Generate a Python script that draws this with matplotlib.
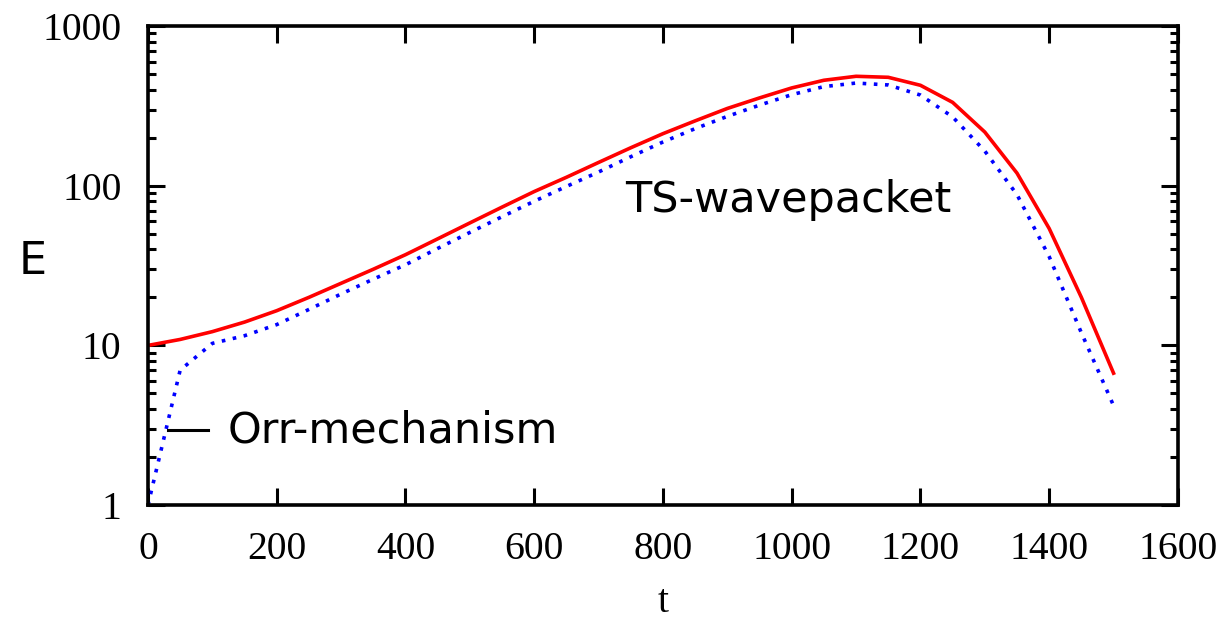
import matplotlib
matplotlib.use("Agg")
import matplotlib.pyplot as plt
from matplotlib.ticker import LogLocator, FixedLocator, NullFormatter

# data
t = [0, 50, 100, 150, 200, 250, 300, 350, 400, 450, 500, 550, 600, 650, 700, 750,
     800, 850, 900, 950, 1000, 1050, 1100, 1150, 1200, 1250, 1300, 1350, 1400, 1450, 1500]
E_red = [10.0, 10.9, 12.2, 14.0, 16.5, 20.0, 24.5, 30.0, 37.0, 46.5, 58.5, 73.5, 92.0,
         113, 140, 173, 212, 255, 305, 355, 410, 458, 485, 478, 426, 333, 217, 120, 54, 20, 6.7]
E_blue = [1.0, 7.0, 10.3, 11.5, 13.5, 16.8, 21.0, 26.0, 32.0, 40.5, 51.0, 64.0, 80.0,
          99, 122, 152, 188, 228, 272, 320, 372, 418, 440, 428, 370, 270, 165, 88, 36, 12, 4.2]

fig, ax = plt.subplots(figsize=(12.27, 6.22), dpi=100)
fig.subplots_adjust(left=0.1206, right=0.96, top=0.958, bottom=0.188)

ax.plot(t, E_red, color="red", linewidth=2.6)
ax.plot(t, E_blue, color="blue", linewidth=2.6, linestyle=(0, (1, 2.1)))

ax.set_yscale("log")
ax.set_xlim(0, 1600)
ax.set_ylim(1, 1000)

serif = "Liberation Serif"
ax.xaxis.set_major_locator(FixedLocator([0, 200, 400, 600, 800, 1000, 1200, 1400, 1600]))
ax.yaxis.set_major_locator(FixedLocator([1, 10, 100, 1000]))
ax.yaxis.set_minor_locator(LogLocator(base=10, subs=range(2, 10)))
ax.yaxis.set_minor_formatter(NullFormatter())
ax.set_yticklabels(["1", "10", "100", "1000"])
ax.tick_params(which="both", direction="in", top=True, right=True, width=2.2)
ax.tick_params(which="major", length=12, labelsize=28.5, pad=19)
ax.tick_params(which="minor", length=6)
for lab in ax.get_xticklabels() + ax.get_yticklabels():
    lab.set_fontfamily(serif)
for sp in ax.spines.values():
    sp.set_linewidth(2.6)

ax.set_xlabel("t", fontsize=28.5, fontfamily=serif, labelpad=11)
fig.text(33 / 1227, 1 - 262 / 622, "E", fontsize=32, fontfamily="DejaVu Sans",
         ha="center", va="center")

ax.text(741, 81, "TS-wavepacket", fontsize=31, fontfamily="DejaVu Sans", va="center")
ax.plot([31, 93], [2.95, 2.95], color="black", linewidth=2.2)
ax.text(124, 2.95, "Orr-mechanism", fontsize=31, fontfamily="DejaVu Sans", va="center")

fig.savefig("out.png", dpi=100)
